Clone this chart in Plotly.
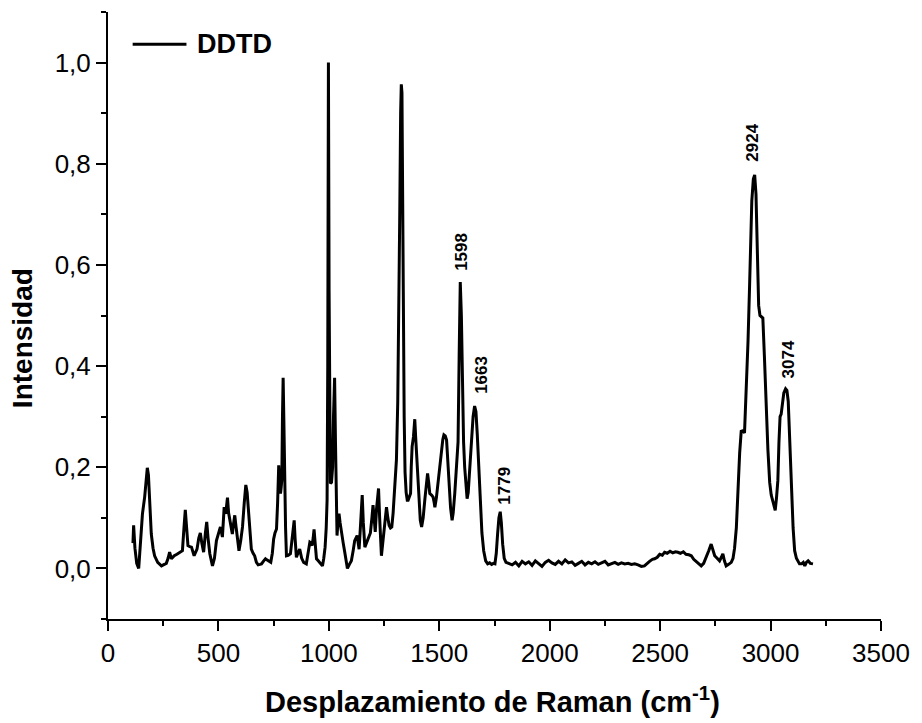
import plotly.graph_objects as go

# Raman shift (cm-1) and normalized intensity
raman_shift = [
    113, 116, 122, 130, 139, 148, 156, 166, 172, 178, 183, 189, 196, 204, 211, 225, 242, 255, 264, 272,
    279, 287, 300, 312, 325, 337, 344, 350, 356, 362, 370, 378, 390, 403, 411, 418, 425, 433, 441, 447,
    453, 461, 473, 482, 491, 500, 509, 518, 526, 533, 541, 546, 551, 557, 563, 569, 574, 579, 584, 593,
    601, 609, 617, 624, 630, 636, 643, 649, 657, 664, 672, 680, 688, 695, 705, 713, 719, 725, 737, 744,
    750, 756, 763, 768, 773, 777, 781, 784, 787, 790, 793, 796, 799, 801, 804, 808, 816, 826, 834, 839,
    843, 847, 853, 860, 868, 877, 886, 898, 906, 914, 920, 924, 929, 933, 938, 944, 952, 959, 966, 971,
    977, 983, 988, 992, 995, 998, 1001, 1004, 1007, 1012, 1017, 1021, 1026, 1030, 1034, 1037, 1041, 1046, 1051, 1057,
    1065, 1072, 1078, 1084, 1093, 1102, 1110, 1117, 1128, 1133, 1137, 1144, 1151, 1156, 1163, 1170, 1178, 1188, 1195, 1200,
    1205, 1210, 1216, 1221, 1225, 1230, 1234, 1238, 1244, 1249, 1255, 1261, 1267, 1273, 1279, 1285, 1291, 1297, 1302, 1306,
    1312, 1317, 1321, 1325, 1328, 1331, 1334, 1337, 1341, 1345, 1350, 1355, 1359, 1364, 1370, 1373, 1377, 1383, 1389, 1393,
    1397, 1403, 1408, 1414, 1420, 1427, 1435, 1441, 1447, 1452, 1457, 1465, 1472, 1477, 1480, 1487, 1495, 1503, 1510, 1516,
    1521, 1527, 1533, 1539, 1545, 1551, 1558, 1563, 1570, 1577, 1585, 1590, 1595, 1600, 1605, 1610, 1615, 1620, 1626, 1631,
    1638, 1646, 1653, 1660, 1666, 1672, 1678, 1686, 1693, 1701, 1710, 1719, 1728, 1737, 1745, 1752, 1758, 1764, 1770, 1776,
    1781, 1787, 1794, 1802, 1815, 1830, 1845, 1860, 1875, 1890, 1905, 1920, 1935, 1950, 1965, 1980, 1995, 2010, 2025, 2040,
    2055, 2070, 2085, 2100, 2115, 2130, 2145, 2160, 2175, 2190, 2205, 2220, 2235, 2250, 2265, 2280, 2295, 2310, 2325, 2340,
    2355, 2370, 2385, 2400, 2415, 2429, 2440, 2452, 2465, 2475, 2487, 2498, 2510, 2520, 2532, 2545, 2557, 2570, 2580, 2592,
    2605, 2617, 2630, 2641, 2652, 2663, 2675, 2686, 2697, 2709, 2720, 2731, 2739, 2747, 2758, 2769, 2777, 2784, 2791, 2799,
    2810, 2822, 2830, 2837, 2845, 2852, 2860, 2867, 2874, 2882, 2890, 2898, 2905, 2915, 2922, 2928, 2934, 2940, 2946, 2952,
    2958, 2965, 2972, 2981, 2988, 2996, 3003, 3012, 3021, 3027, 3033, 3038, 3043, 3048, 3054, 3060, 3068, 3074, 3080, 3086,
    3094, 3102, 3109, 3117, 3131, 3140, 3148, 3155, 3162, 3170, 3180, 3192,
]
intensity = [
    0.050, 0.085, 0.040, 0.010, 0.000, 0.050, 0.108, 0.141, 0.170, 0.199, 0.185, 0.140, 0.068, 0.040, 0.025, 0.012, 0.005, 0.008, 0.010, 0.020,
    0.032, 0.019, 0.025, 0.028, 0.032, 0.035, 0.080, 0.116, 0.080, 0.045, 0.043, 0.042, 0.025, 0.038, 0.060, 0.070, 0.050, 0.032, 0.070, 0.092,
    0.060, 0.029, 0.005, 0.020, 0.055, 0.070, 0.082, 0.062, 0.121, 0.108, 0.140, 0.110, 0.095, 0.080, 0.068, 0.090, 0.105, 0.085, 0.062, 0.035,
    0.055, 0.082, 0.130, 0.165, 0.150, 0.108, 0.070, 0.038, 0.030, 0.025, 0.012, 0.007, 0.008, 0.009, 0.015, 0.019, 0.017, 0.015, 0.012, 0.030,
    0.058, 0.070, 0.078, 0.130, 0.204, 0.170, 0.148, 0.160, 0.175, 0.300, 0.377, 0.300, 0.200, 0.161, 0.080, 0.025, 0.026, 0.029, 0.060, 0.090,
    0.095, 0.060, 0.022, 0.030, 0.038, 0.020, 0.012, 0.009, 0.030, 0.052, 0.050, 0.045, 0.060, 0.077, 0.050, 0.019, 0.015, 0.012, 0.008, 0.005,
    0.020, 0.042, 0.080, 0.135, 0.400, 1.000, 0.550, 0.250, 0.168, 0.170, 0.200, 0.300, 0.377, 0.250, 0.120, 0.065, 0.090, 0.108, 0.090, 0.068,
    0.050, 0.032, 0.012, 0.000, 0.008, 0.015, 0.035, 0.055, 0.065, 0.050, 0.038, 0.090, 0.145, 0.090, 0.042, 0.050, 0.058, 0.070, 0.100, 0.125,
    0.100, 0.072, 0.118, 0.140, 0.158, 0.100, 0.040, 0.025, 0.050, 0.075, 0.100, 0.121, 0.100, 0.085, 0.080, 0.082, 0.110, 0.145, 0.180, 0.215,
    0.330, 0.500, 0.700, 0.900, 0.957, 0.940, 0.800, 0.550, 0.300, 0.190, 0.150, 0.135, 0.135, 0.140, 0.148, 0.200, 0.241, 0.260, 0.295, 0.260,
    0.228, 0.170, 0.128, 0.095, 0.082, 0.100, 0.138, 0.170, 0.188, 0.170, 0.148, 0.145, 0.141, 0.130, 0.121, 0.140, 0.175, 0.210, 0.235, 0.255,
    0.264, 0.262, 0.254, 0.210, 0.161, 0.120, 0.095, 0.110, 0.148, 0.200, 0.250, 0.420, 0.566, 0.500, 0.350, 0.250, 0.200, 0.160, 0.138, 0.150,
    0.200, 0.260, 0.300, 0.321, 0.310, 0.265, 0.200, 0.130, 0.070, 0.035, 0.015, 0.009, 0.011, 0.008, 0.010, 0.009, 0.030, 0.068, 0.100, 0.112,
    0.090, 0.048, 0.020, 0.012, 0.010, 0.007, 0.012, 0.005, 0.014, 0.009, 0.013, 0.006, 0.015, 0.010, 0.004, 0.012, 0.016, 0.011, 0.008, 0.014,
    0.009, 0.017, 0.011, 0.013, 0.006, 0.010, 0.014, 0.007, 0.012, 0.009, 0.013, 0.008, 0.011, 0.014, 0.007, 0.010, 0.012, 0.008, 0.011, 0.009,
    0.010, 0.008, 0.009, 0.007, 0.004, 0.005, 0.010, 0.014, 0.018, 0.019, 0.022, 0.028, 0.026, 0.032, 0.030, 0.034, 0.031, 0.033, 0.032, 0.030,
    0.033, 0.028, 0.027, 0.025, 0.018, 0.014, 0.009, 0.005, 0.010, 0.022, 0.035, 0.048, 0.035, 0.025, 0.020, 0.015, 0.022, 0.029, 0.015, 0.005,
    0.008, 0.012, 0.020, 0.040, 0.080, 0.160, 0.228, 0.271, 0.272, 0.268, 0.347, 0.450, 0.559, 0.726, 0.770, 0.778, 0.740, 0.620, 0.520, 0.500,
    0.498, 0.495, 0.420, 0.300, 0.234, 0.170, 0.145, 0.130, 0.115, 0.140, 0.174, 0.250, 0.300, 0.305, 0.330, 0.347, 0.355, 0.352, 0.330, 0.250,
    0.161, 0.080, 0.035, 0.020, 0.009, 0.009, 0.012, 0.005, 0.012, 0.015, 0.010, 0.009,
]

# Peak labels
peak_labels = ["1598", "1663", "1779", "2924", "3074"]
peak_label_x = [1600, 1693, 1795, 2920, 3082]
peak_label_y = [0.585, 0.341, 0.123, 0.800, 0.371]

# Axis ticks
x_tickvals = [0, 500, 1000, 1500, 2000, 2500, 3000, 3500]
x_ticktext = ["0", "500", "1000", "1500", "2000", "2500", "3000", "3500"]
y_tickvals = [0.0, 0.2, 0.4, 0.6, 0.8, 1.0]
y_ticktext = ["0,0", "0,2", "0,4", "0,6", "0,8", "1,0"]

series_name = "DDTD"
FONT = "Arial, Liberation Sans, Helvetica, sans-serif"

fig = go.Figure()
fig.add_trace(go.Scatter(
    x=raman_shift, y=intensity, mode="lines", name=series_name,
    line=dict(color="black", width=3), showlegend=False,
))

annotations = []
for lbl, lx, ly in zip(peak_labels, peak_label_x, peak_label_y):
    annotations.append(dict(
        x=lx, y=ly, xref="x", yref="y", text="<b>" + lbl + "</b>", showarrow=False,
        textangle=-90, xanchor="center", yanchor="bottom",
        font=dict(family=FONT, size=17, color="black"),
    ))

# axis titles
annotations.append(dict(
    x=0.497, y=-0.134, xref="paper", yref="paper",
    text="<b>Desplazamiento de Raman (cm<sup>-1</sup>)</b>", showarrow=False,
    xanchor="center", yanchor="middle", font=dict(family=FONT, size=29, color="black"),
))
annotations.append(dict(
    x=-0.1114, y=0.4625, xref="paper", yref="paper", text="<b>Intensidad</b>",
    showarrow=False, textangle=-90, xanchor="center", yanchor="middle",
    font=dict(family=FONT, size=28, color="black"),
))
# legend text
annotations.append(dict(
    x=0.113, y=0.947, xref="paper", yref="paper", text="<b>" + series_name + "</b>",
    showarrow=False, xanchor="left", yanchor="middle",
    font=dict(family=FONT, size=27, color="black"),
))

shapes = [dict(
    type="line", xref="paper", yref="paper", x0=0.0319, x1=0.1015, y0=0.947, y1=0.947,
    line=dict(color="black", width=3),
)]

fig.update_layout(
    width=922, height=723,
    margin=dict(l=108, r=39, t=12, b=104),
    paper_bgcolor="white", plot_bgcolor="white",
    font=dict(family=FONT, color="black"),
    annotations=annotations, shapes=shapes,
    showlegend=False,
)
fig.update_xaxes(
    range=[0, 3500], tickvals=x_tickvals, ticktext=x_ticktext,
    showgrid=False, zeroline=False, showline=True, linecolor="black", linewidth=2,
    ticks="outside", ticklen=10, tickwidth=2, tickcolor="black",
    minor=dict(dtick=250, ticks="outside", ticklen=5, tickwidth=2, tickcolor="black", showgrid=False),
    tickfont=dict(family=FONT, size=26, color="black"),
)
fig.update_yaxes(
    range=[-0.1, 1.1], tickvals=y_tickvals, ticktext=y_ticktext,
    showgrid=False, zeroline=False, showline=True, linecolor="black", linewidth=2,
    ticks="outside", ticklen=10, tickwidth=2, tickcolor="black",
    minor=dict(tickvals=[-0.1, 0.1, 0.3, 0.5, 0.7, 0.9, 1.1], ticks="outside", ticklen=5, tickwidth=2, tickcolor="black", showgrid=False),
    tickfont=dict(family=FONT, size=26, color="black"),
)

fig.write_html("out.html")
